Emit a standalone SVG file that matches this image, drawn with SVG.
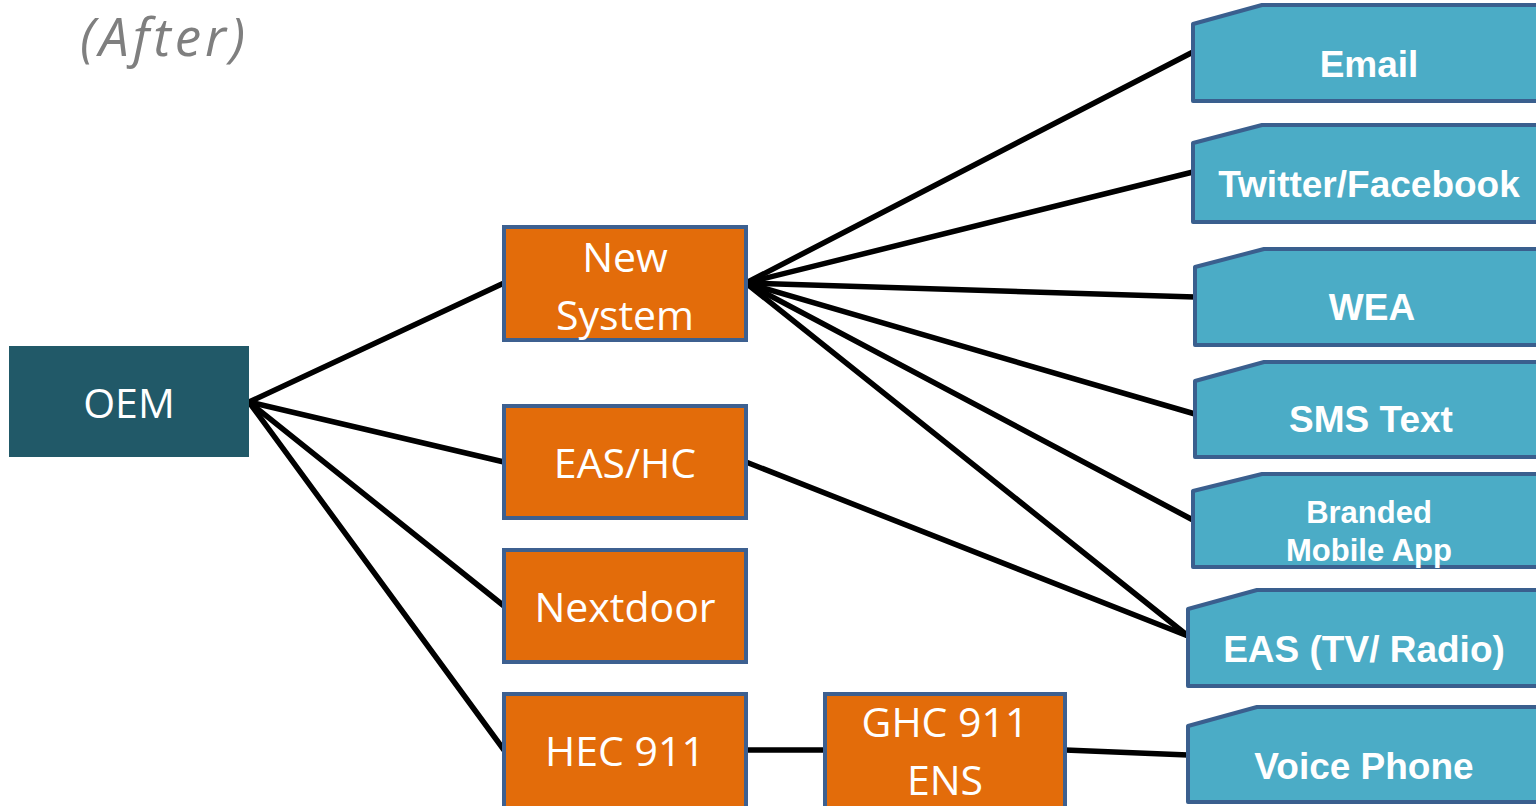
<svg xmlns="http://www.w3.org/2000/svg" width="1536" height="806" viewBox="0 0 1536 806">
<style>
.org{fill:#e36c0a;stroke:#3d6090;stroke-width:4}
.blu{fill:#4bacc6;stroke:#3a5f8e;stroke-width:4;stroke-linejoin:round}
.ot{font-family:"Open Sans",sans-serif;font-size:41px;fill:#fff;text-anchor:middle}
.bt{font-family:"Liberation Sans",Arial,sans-serif;font-weight:bold;font-size:37px;fill:#fff;text-anchor:middle}
.bt.bs{font-size:31px}
.cn line{stroke:#000;stroke-width:5.5;stroke-linecap:round}
</style>
<rect width="1536" height="806" fill="#fff"/>
<text x="80" y="56" font-family="Open Sans,sans-serif" font-style="italic" font-size="53" fill="#7f7f7f" textLength="165">(After)</text>
<g class="cn" id="connectors">
<line x1="249" y1="402" x2="504" y2="283"/>
<line x1="249" y1="402" x2="504" y2="462"/>
<line x1="249" y1="402" x2="504" y2="606"/>
<line x1="249" y1="402" x2="504" y2="750"/>
<line x1="746" y1="283" x2="1193" y2="52"/>
<line x1="746" y1="283" x2="1193" y2="172"/>
<line x1="746" y1="283" x2="1195" y2="297"/>
<line x1="746" y1="283" x2="1195" y2="414"/>
<line x1="746" y1="283" x2="1193" y2="520"/>
<line x1="746" y1="283" x2="1188" y2="636"/>
<line x1="746" y1="462" x2="1188" y2="636"/>
<line x1="746" y1="750" x2="825" y2="750"/>
<line x1="1065" y1="750" x2="1188" y2="755"/>
</g>
<g id="oem">
<rect x="9" y="346" width="240" height="111" fill="#215968"/>
<text class="ot" x="129" y="418">OEM</text>
</g>
<g id="new-system">
<rect class="org" x="504" y="227" width="242" height="113"/>
<text class="ot" x="625" y="272">New</text>
<text class="ot" x="625" y="330">System</text>
</g>
<g id="eas-hc">
<rect class="org" x="504" y="406" width="242" height="112"/>
<text class="ot" x="625" y="478">EAS/HC</text>
</g>
<g id="nextdoor">
<rect class="org" x="504" y="550" width="242" height="112"/>
<text class="ot" x="625" y="622">Nextdoor</text>
</g>
<g id="hec911">
<rect class="org" x="504" y="694" width="242" height="116"/>
<text class="ot" x="625" y="766">HEC 911</text>
</g>
<g id="ghc911">
<rect class="org" x="825" y="694" width="240" height="116"/>
<text class="ot" x="945" y="737">GHC 911</text>
<text class="ot" x="945" y="795">ENS</text>
</g>
<g id="email">
<path class="blu" d="M1193,24 L1262,5 L1540,5 L1540,101 L1193,101 Z"/>
<text class="bt" x="1369" y="77">Email</text>
</g>
<g id="twitter">
<path class="blu" d="M1193,143 L1262,125 L1540,125 L1540,222 L1193,222 Z"/>
<text class="bt" x="1369" y="197">Twitter/Facebook</text>
</g>
<g id="wea">
<path class="blu" d="M1195,267 L1264,249 L1540,249 L1540,345 L1195,345 Z"/>
<text class="bt" x="1372" y="320">WEA</text>
</g>
<g id="sms">
<path class="blu" d="M1195,381 L1264,362 L1540,362 L1540,457 L1195,457 Z"/>
<text class="bt" x="1371" y="432">SMS Text</text>
</g>
<g id="branded">
<path class="blu" d="M1193,491 L1262,474 L1540,474 L1540,567 L1193,567 Z"/>
<text class="bt bs" x="1369" y="523">Branded</text>
<text class="bt bs" x="1369" y="561">Mobile App</text>
</g>
<g id="eas-tv">
<path class="blu" d="M1188,609 L1257,590 L1540,590 L1540,686 L1188,686 Z"/>
<text class="bt" x="1364" y="662">EAS (TV/ Radio)</text>
</g>
<g id="voice">
<path class="blu" d="M1188,726 L1257,707 L1540,707 L1540,802 L1188,802 Z"/>
<text class="bt" x="1364" y="779">Voice Phone</text>
</g>
</svg>
